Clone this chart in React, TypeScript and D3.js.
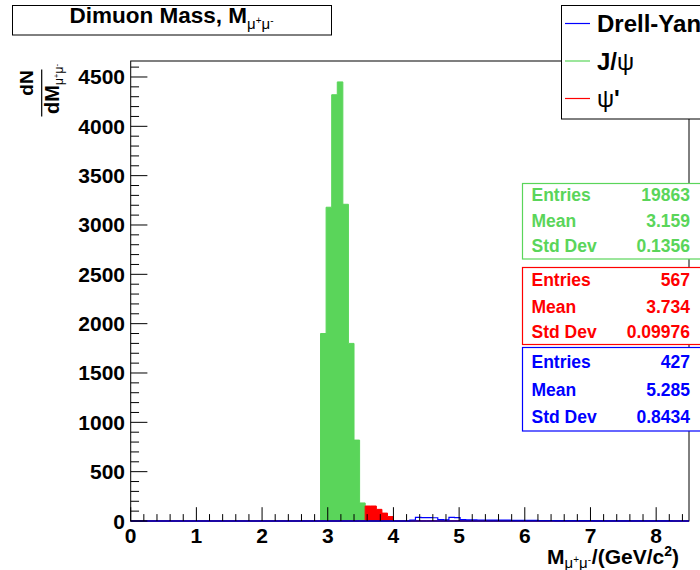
import React from "react";
import * as d3 from "d3";

// Histogram binning: 100 bins between 0 and 8.5 GeV/c^2
const X_MIN = 0;
const X_MAX = 8.5;
const N_BINS = 100;
const Y_MAX = 4662;

const xTickValues = [0, 1, 2, 3, 4, 5, 6, 7, 8];
const yTickValues = [0, 500, 1000, 1500, 2000, 2500, 3000, 3500, 4000, 4500];

// J/psi counts, starting at bin 34
const jpsiFirstBin = 34;
const jpsiCounts = [1900, 3180, 4320, 4450, 3210, 1800, 820, 183];

// psi' counts, starting at bin 42
const psiPrimeFirstBin = 42;
const psiPrimeCounts = [
  152, 152, 118, 80, 45, 0, 0, 0, 1, 1, 1, 1, 1, 1, 1, 1, 2, 1, 1, 1, 1, 1, 0,
  1, 0, 1, 1, 1, 0, 0, 0, 0, 0, 1,
];

// Drell-Yan counts, starting at bin 50
const drellYanFirstBin = 50;
const drellYanCounts = [
  10, 36, 35, 34, 33, 14, 12, 36, 35, 14, 12, 11, 10, 10, 9, 9, 8, 8, 7, 7, 7, 6,
  6, 5, 5, 5, 4, 4, 4, 3, 3, 3, 3, 2, 2, 2, 2, 2, 1, 1, 1, 1, 1, 1, 1, 1, 2,
];

const legendLabels = ["Drell-Yan", "J/\u03c8", "\u03c8'"];

const statLabels = ["Entries", "Mean", "Std Dev"];
const jpsiStats = ["19863", "3.159", "0.1356"];
const psiPrimeStats = ["567", "3.734", "0.09976"];
const drellYanStats = ["427", "5.285", "0.8434"];

const GREEN = "#5ad55a";
const RED = "#ff0000";
const BLUE = "#0000ff";
const FONT = "'Liberation Sans', Arial, Helvetica, sans-serif";

function fullBins(first: number, counts: number[]): number[] {
  const out = new Array(N_BINS).fill(0);
  counts.forEach((c, i) => {
    out[first + i] = c;
  });
  return out;
}

// mu+ mu- subscript/superscript sequence as tspans
function MuMu({ big, small, up }: { big: number; small: number; up: number }) {
  return (
    <>
      <tspan fontSize={big} fontWeight="normal">{"\u03bc"}</tspan>
      <tspan fontSize={small} fontWeight="normal" dy={-up}>+</tspan>
      <tspan fontSize={big} fontWeight="normal" dy={up}>{"\u03bc"}</tspan>
      <tspan fontSize={small} fontWeight="normal" dy={-up}>-</tspan>
      <tspan fontSize={small} dy={up}>{"\u200a"}</tspan>
    </>
  );
}

function StatsBox({
  top,
  bottom,
  color,
  values,
  rowY,
}: {
  top: number;
  bottom: number;
  color: string;
  values: string[];
  rowY: number[];
}) {
  return (
    <g>
      <rect x={522.5} y={top} width={200} height={bottom - top} fill="white" stroke={color} strokeWidth={1.2} />
      {statLabels.map((lab, i) => (
        <g key={lab}>
          <text x={531.5} y={rowY[i]} fill={color} fontSize={17.5} fontWeight="bold" fontFamily={FONT}>
            {lab}
          </text>
          <text x={690} y={rowY[i]} fill={color} fontSize={17.5} fontWeight="bold" fontFamily={FONT} textAnchor="end">
            {values[i]}
          </text>
        </g>
      ))}
    </g>
  );
}

export default function App() {
  const left = 130.7;
  const right = 689;
  const top = 61;
  const bottom = 521;

  const x = d3.scaleLinear().domain([X_MIN, X_MAX]).range([left, right]);
  const y = d3.scaleLinear().domain([0, Y_MAX]).range([bottom, top]);
  const binW = (X_MAX - X_MIN) / N_BINS;

  const toPoints = (vals: number[]) => {
    const pts: [number, number][] = vals.map((v, i) => [X_MIN + i * binW, v]);
    pts.push([X_MAX, vals[vals.length - 1]]);
    return pts;
  };

  const area = d3
    .area<[number, number]>()
    .x((d) => x(d[0]))
    .y0(y(0))
    .y1((d) => y(d[1]))
    .curve(d3.curveStepAfter);
  const line = d3
    .line<[number, number]>()
    .x((d) => x(d[0]))
    .y((d) => y(d[1]))
    .curve(d3.curveStepAfter);

  const jpsi = toPoints(fullBins(jpsiFirstBin, jpsiCounts));
  const psiP = toPoints(fullBins(psiPrimeFirstBin, psiPrimeCounts));
  const dy = toPoints(fullBins(drellYanFirstBin, drellYanCounts));

  const xMinor = d3
    .range(0, 43)
    .map((i) => i * 0.2)
    .filter((v) => v <= X_MAX + 1e-9 && Math.abs(v - Math.round(v)) > 1e-6);
  const yMinor = d3
    .range(1, 47)
    .map((i) => i * 100)
    .filter((v) => v % 500 !== 0 && v <= Y_MAX);

  const yTickLen = 16.7;
  const xTickLen = 13.8;

  return (
    <svg
      width={700}
      height={570}
      style={{ position: "absolute", left: 0, top: 0, background: "white" }}
      fontFamily={FONT}
    >
      <rect x={0} y={0} width={700} height={570} fill="white" />

      {/* histograms */}
      <path d={area(jpsi) || ""} fill={GREEN} stroke={GREEN} strokeWidth={1} />
      <path d={area(psiP) || ""} fill={RED} stroke={RED} strokeWidth={1} />
      <path d={line(dy) || ""} fill="none" stroke={BLUE} strokeWidth={1.2} />

      {/* frame */}
      <rect x={left} y={top} width={right - left} height={bottom - top} fill="none" stroke="#000" strokeWidth={1} />
      <line x1={left} x2={right} y1={bottom} y2={bottom} stroke={BLUE} strokeWidth={1.2} />

      {/* x axis ticks */}
      {xTickValues.map((v) => (
        <line key={"xM" + v} x1={x(v)} x2={x(v)} y1={bottom} y2={bottom - xTickLen} stroke="#000" />
      ))}
      {xMinor.map((v) => (
        <line key={"xm" + v} x1={x(v)} x2={x(v)} y1={bottom} y2={bottom - xTickLen / 2} stroke="#000" />
      ))}
      {xTickValues.map((v) => (
        <text key={"xl" + v} x={x(v)} y={543} textAnchor="middle" fontSize={21} fontWeight="bold">
          {v}
        </text>
      ))}

      {/* y axis ticks */}
      {yTickValues.map((v) => (
        <line key={"yM" + v} x1={left} x2={left + yTickLen} y1={y(v)} y2={y(v)} stroke="#000" />
      ))}
      {yMinor.map((v) => (
        <line key={"ym" + v} x1={left} x2={left + yTickLen / 2} y1={y(v)} y2={y(v)} stroke="#000" />
      ))}
      {yTickValues.map((v) => (
        <text key={"yl" + v} x={125} y={y(v) + 7.5} textAnchor="end" fontSize={21} fontWeight="bold">
          {v}
        </text>
      ))}

      {/* x axis title */}
      <text x={679} y={564} textAnchor="end" fontSize={21} fontWeight="bold">
        M
        <tspan dy={4}>
          <MuMu big={15} small={10} up={5} />
        </tspan>
        <tspan dy={-4}>/(GeV/c</tspan>
        <tspan fontSize={14} dy={-8}>2</tspan>
        <tspan dy={8}>)</tspan>
      </text>

      {/* y axis title: dN / dM */}
      <g transform="translate(41.7,93) rotate(-90)">
        <line x1={-23.5} x2={23.5} y1={0} y2={0} stroke="#000" strokeWidth={1.2} />
        <text x={10} y={-8.5} textAnchor="middle" fontSize={19} fontWeight="bold">
          dN
        </text>
        <text x={-21} y={17.5} fontSize={20} fontWeight="bold">
          dM
          <tspan dy={4}>
            <MuMu big={12} small={8} up={4} />
          </tspan>
        </text>
      </g>

      {/* title box */}
      <rect x={12.5} y={5.5} width={319} height={29.5} fill="white" stroke="#000" strokeWidth={1} />
      <text x={172} y={22.5} textAnchor="middle" fontSize={22.5} fontWeight="bold">
        Dimuon Mass, M
        <tspan dy={6}>
          <MuMu big={15} small={10} up={5} />
        </tspan>
      </text>

      {/* legend */}
      <rect x={561.5} y={5.5} width={200} height={113.5} fill="white" stroke="#000" strokeWidth={1} />
      {[BLUE, GREEN, RED].map((c, i) => {
        const cy = [23.5, 61, 98.5][i];
        return (
          <g key={"lg" + i}>
            <line x1={565} x2={590} y1={cy} y2={cy} stroke={c} strokeWidth={1.2} />
            <text x={597} y={cy + 8.5} fontSize={24} fontWeight="bold">
              {i === 0 ? legendLabels[0] : null}
              {i === 1 ? (
                <>
                  J/<tspan fontWeight="normal">{"\u03c8"}</tspan>
                </>
              ) : null}
              {i === 2 ? (
                <>
                  <tspan fontWeight="normal">{"\u03c8"}</tspan>'
                </>
              ) : null}
            </text>
          </g>
        );
      })}

      {/* statistics boxes */}
      <StatsBox top={183.5} bottom={259} color={GREEN} values={jpsiStats} rowY={[201, 226.5, 251.5]} />
      <StatsBox top={267.5} bottom={344.5} color={RED} values={psiPrimeStats} rowY={[286, 312.5, 337.5]} />
      <StatsBox top={347.5} bottom={431} color={BLUE} values={drellYanStats} rowY={[368, 396, 423]} />
    </svg>
  );
}
